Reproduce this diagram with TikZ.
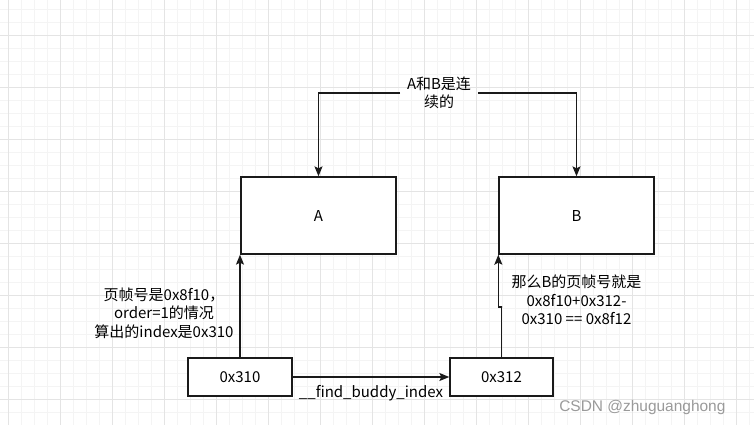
\documentclass[tikz,border=0pt]{standalone}
\usepackage{fontspec}
\setmainfont{Noto Sans CJK SC}
\newfontfamily\wmfont{Liberation Sans}
\usetikzlibrary{arrows.meta,calc}
\definecolor{gridminor}{HTML}{F4F4F4}
\definecolor{gridmajor}{HTML}{E4E4E4}
\definecolor{linecol}{HTML}{1A1A1A}
\definecolor{wmgray}{HTML}{9A9A9A}
\tikzset{
  box/.style={draw=linecol, fill=white, line width=1pt, inner sep=0pt},
  conn/.style={draw=linecol, line width=1pt, -{Stealth[length=7.5pt,width=6pt,inset=1.5pt]}},
  txt/.style={font=\fontsize{11.25}{13.9}\selectfont, text=black, align=center, inner sep=0pt},
}
\begin{document}
\begin{tikzpicture}[x=0.75pt,y=-0.75pt]
\useasboundingbox (0,0) rectangle (754,425);
\fill[white] (0,0) rectangle (754,425);
% grid
\foreach \i in {0,...,57} {
  \draw[gridminor, line width=0.6pt] ({8+13*\i},0) -- ({8+13*\i},425);
}
\foreach \i in {0,...,32} {
  \draw[gridminor, line width=0.6pt] (0,{9+13*\i}) -- (754,{9+13*\i});
}
\foreach \i in {0,...,14} {
  \draw[gridmajor, line width=0.6pt] ({8+52*\i},0) -- ({8+52*\i},425);
}
\foreach \i in {0,...,7} {
  \draw[gridmajor, line width=0.6pt] (0,{35+52*\i}) -- (754,{35+52*\i});
}
% boxes
\node[box, minimum width=116.25pt, minimum height=57.75pt, txt] (A) at (318.5,215.5) {A};
\node[box, minimum width=116.25pt, minimum height=57.75pt, txt] (B) at (576.5,215.5) {B};
\node[box, minimum width=78pt, minimum height=28.5pt, txt] (n310) at (240,377) {0x310};
\node[box, minimum width=77.25pt, minimum height=28.5pt, txt] (n312) at (501.5,377) {0x312};
% labels
\node[txt, minimum width=58pt] (top) at (439,93) {A和B是连\\续的};
\node[txt] (left) at (164,313) {页帧号是0x8f10，\\order=1的情况\\算出的index是0x310};
\node[txt] (right) at (576.5,300) {那么B的页帧号就是\\0x8f10+0x312-\\0x310 == 0x8f12};
% connectors
\draw[conn] (top.west) -| (A.north);
\draw[conn] (top.east) -| (B.north);
\draw[conn] (n310.north) -- (n310.north |- A.south);
\coordinate (bend) at (502,307);
\draw[conn] (n312.north) |- (bend) -| (B.south west);
\draw[conn] (n310.east) -- (n312.west) node[txt, pos=0.5, yshift=-12.5pt] (fbi) {\_\_find\_buddy\_index};
% watermark
\node[anchor=west, inner sep=0pt, text=wmgray, font=\wmfont\fontsize{11.6}{14}\selectfont] (wm) at (559,407) {CSDN @zhuguanghong};
\end{tikzpicture}
\end{document}
